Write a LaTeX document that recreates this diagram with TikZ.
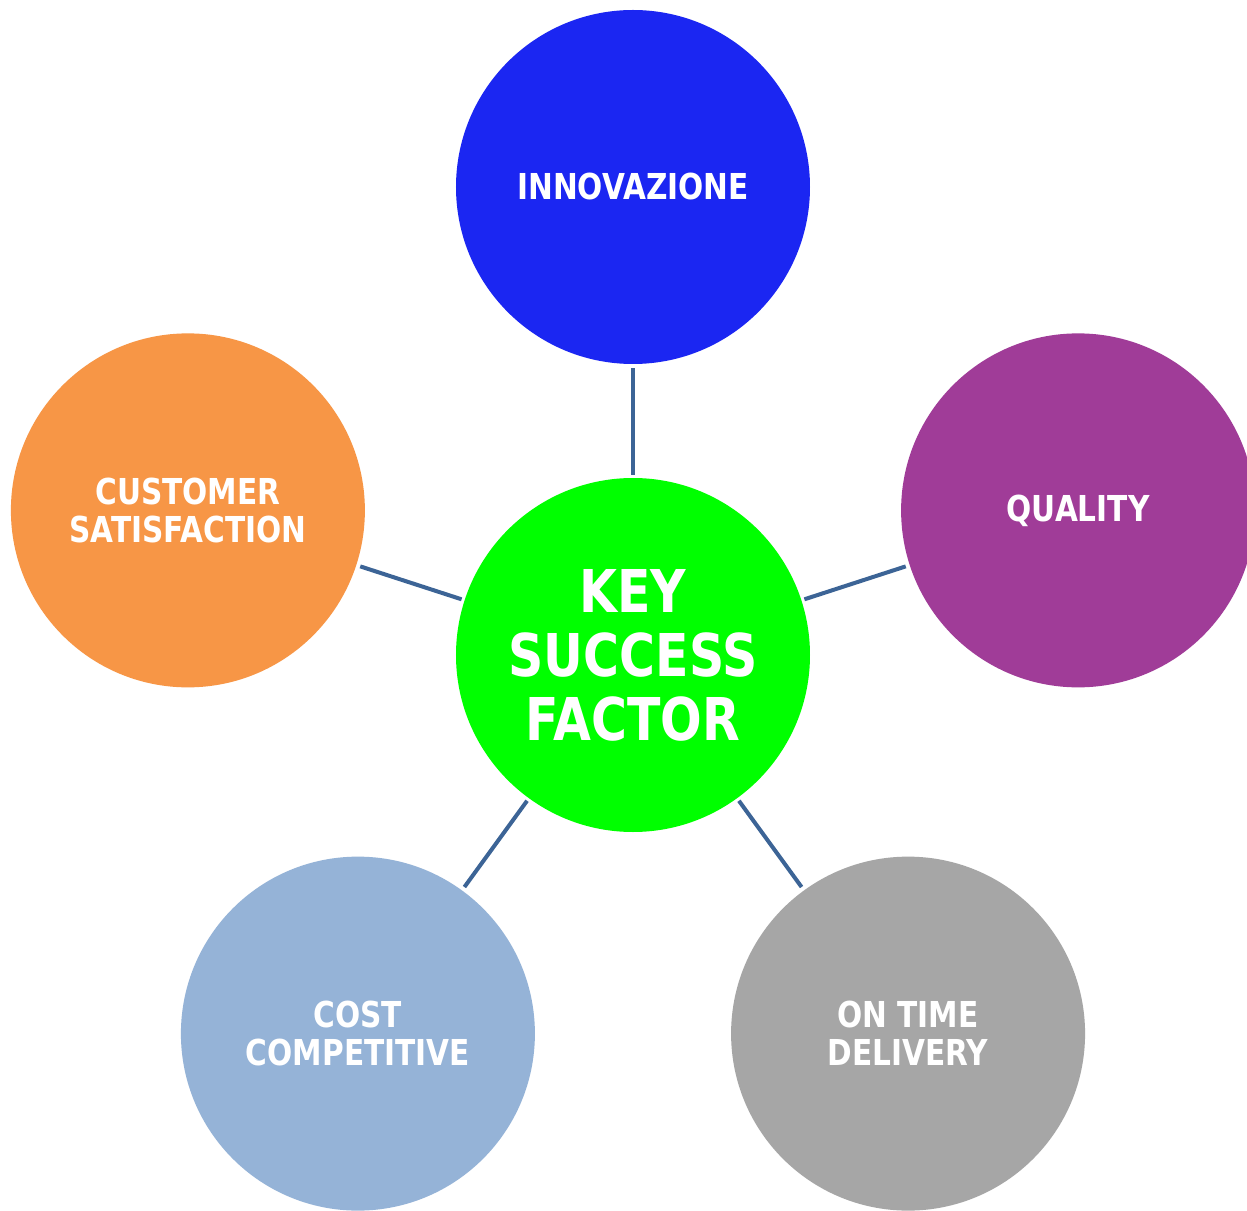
\documentclass[tikz,border=0pt]{standalone}
\usepackage{fontspec}
\usepackage{tikz}
\usetikzlibrary{positioning}

\newfontfamily\ksffont[FakeStretch=0.83]{DejaVu Sans}
\definecolor{ksfgreen}{HTML}{00FF00}
\definecolor{innoblue}{HTML}{1B26F2}
\definecolor{qualpurple}{HTML}{A03C98}
\definecolor{custorange}{HTML}{F79646}
\definecolor{costblue}{HTML}{95B3D7}
\definecolor{timegrey}{HTML}{A6A6A6}
\definecolor{linkblue}{HTML}{3C6496}

\tikzset{
  factor/.style={circle, inner sep=0pt, minimum size=354pt, text=white, align=center,
    font=\ksffont\bfseries\fontsize{35.7}{38}\selectfont},
  hub/.style={factor, font=\ksffont\bfseries\fontsize{59}{64}\selectfont},
  link/.style={draw=linkblue, line width=4pt, shorten <=3pt, shorten >=4pt}
}

\begin{document}
\begin{tikzpicture}[x=1pt, y=1pt]

    \useasboundingbox[fill=white] (-633,-555) rectangle (614,655);
    \clip (-633,-555) rectangle (614,655);

    % Define nodes
    \node[hub, fill=ksfgreen]                (ksf) {KEY\\SUCCESS\\FACTOR};
    \node[factor, fill=innoblue]   at (90:468)  (innovazione) {INNOVAZIONE};
    \node[factor, fill=qualpurple] at (18:468)  (quality) {QUALITY};
    \node[factor, fill=timegrey]   at (-54:468) (ontime) {ON TIME\\DELIVERY};
    \node[factor, fill=costblue]   at (234:468) (cost) {COST\\COMPETITIVE};
    \node[factor, fill=custorange] at (162:468) (customer) {CUSTOMER\\SATISFACTION};

    % Connect the nodes
    \foreach \f in {innovazione,quality,ontime,cost,customer}
      \draw[link] (ksf) -- (\f);

\end{tikzpicture}
\end{document}
